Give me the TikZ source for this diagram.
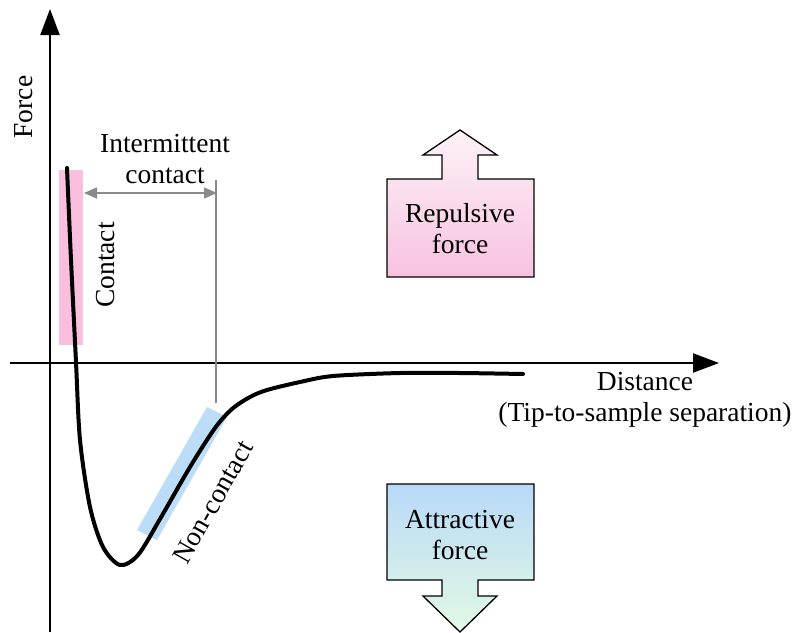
\documentclass[tikz,border=0pt]{standalone}
\usepackage{fontspec}
\setmainfont{Liberation Serif}
\usetikzlibrary{arrows.meta}
\definecolor{pinkbar}{HTML}{F9BFDD}
\definecolor{bluebar}{HTML}{BBDDF8}
\definecolor{pinktop}{HTML}{FDF2F8}
\definecolor{pinkbot}{HTML}{F8C2DF}
\definecolor{bluetop}{HTML}{B8D9F8}
\definecolor{greenbot}{HTML}{E3FAE4}
\definecolor{guide}{HTML}{8A8A8A}
\tikzset{
  lbl/.style={inner sep=0pt, font=\fontsize{27.5}{31}\selectfont},
  axisline/.style={line width=2.2pt, -{Triangle[length=26pt,width=19pt]}},
  guideline/.style={guide, line width=1.6pt},
  bigarrow/.style={draw=black, line width=1.3pt},
}
\begin{document}
\begin{tikzpicture}[x=1pt,y=-1pt]
\useasboundingbox (0,0) rectangle (799,632);
% highlight bars
\fill[pinkbar] (59,170) rectangle (83,345);
\fill[bluebar] (207,407) -- (227,417) -- (157,540) -- (137,530) -- cycle;
% axes
\coordinate (yb) at (50,632);
\coordinate (yt) at (50,9);
\coordinate (xl) at (10,363);
\coordinate (xr) at (719,363);
\draw[axisline] (yb) -- (yt);
\draw[axisline] (xl) -- (xr);
% curve
\draw[line width=4pt, line cap=round] plot[smooth, tension=0.5] coordinates {
 (67,168) (71,260) (76,362) (80,440) (90,507) (103,547) (120,565) (138,555) (160,519) (190,467) (215,428) (232,409) (250,397) (267,390) (300,382) (333,376) (400,373) (460,373) (523,374)};
% intermittent contact guide
\coordinate (g1) at (216,180);
\coordinate (g2) at (216,403);
\draw[guideline] (g1) -- (g2);
\coordinate (a1) at (84,193);
\coordinate (a2) at (217,193);
\draw[guideline, {Triangle[length=13pt,width=11pt]}-{Triangle[length=13pt,width=11pt]}] (a1) -- (a2);
% labels
\node[lbl, rotate=90] (force) at (24,107) {Force};
\node[lbl, rotate=90] (contact) at (106,265) {Contact};
\node[lbl, align=center] (inter) at (165,159) {Intermittent\\contact};
\node[lbl, rotate=60.4] (noncontact) at (213,502) {Non-contact};
\node[lbl, align=center] (dist) at (645,400) {Distance\\(Tip-to-sample separation)};
% repulsive arrow
\path[bigarrow, top color=pinktop, bottom color=pinkbot]
  (387,179) -- (442,179) -- (442,155) -- (423,155) -- (460,130) -- (497,155) -- (478,155) -- (478,179) -- (534,179) -- (534,277) -- (387,277) -- cycle;
\node[lbl, align=center] (rep) at (460,229) {Repulsive\\force};
% attractive arrow
\path[bigarrow, top color=bluetop, bottom color=greenbot]
  (387,484) -- (534,484) -- (534,580) -- (478,580) -- (478,596) -- (497,596) -- (460,632) -- (423,596) -- (442,596) -- (442,580) -- (387,580) -- cycle;
\node[lbl, align=center] (att) at (460,535) {Attractive\\force};
\end{tikzpicture}
\end{document}
